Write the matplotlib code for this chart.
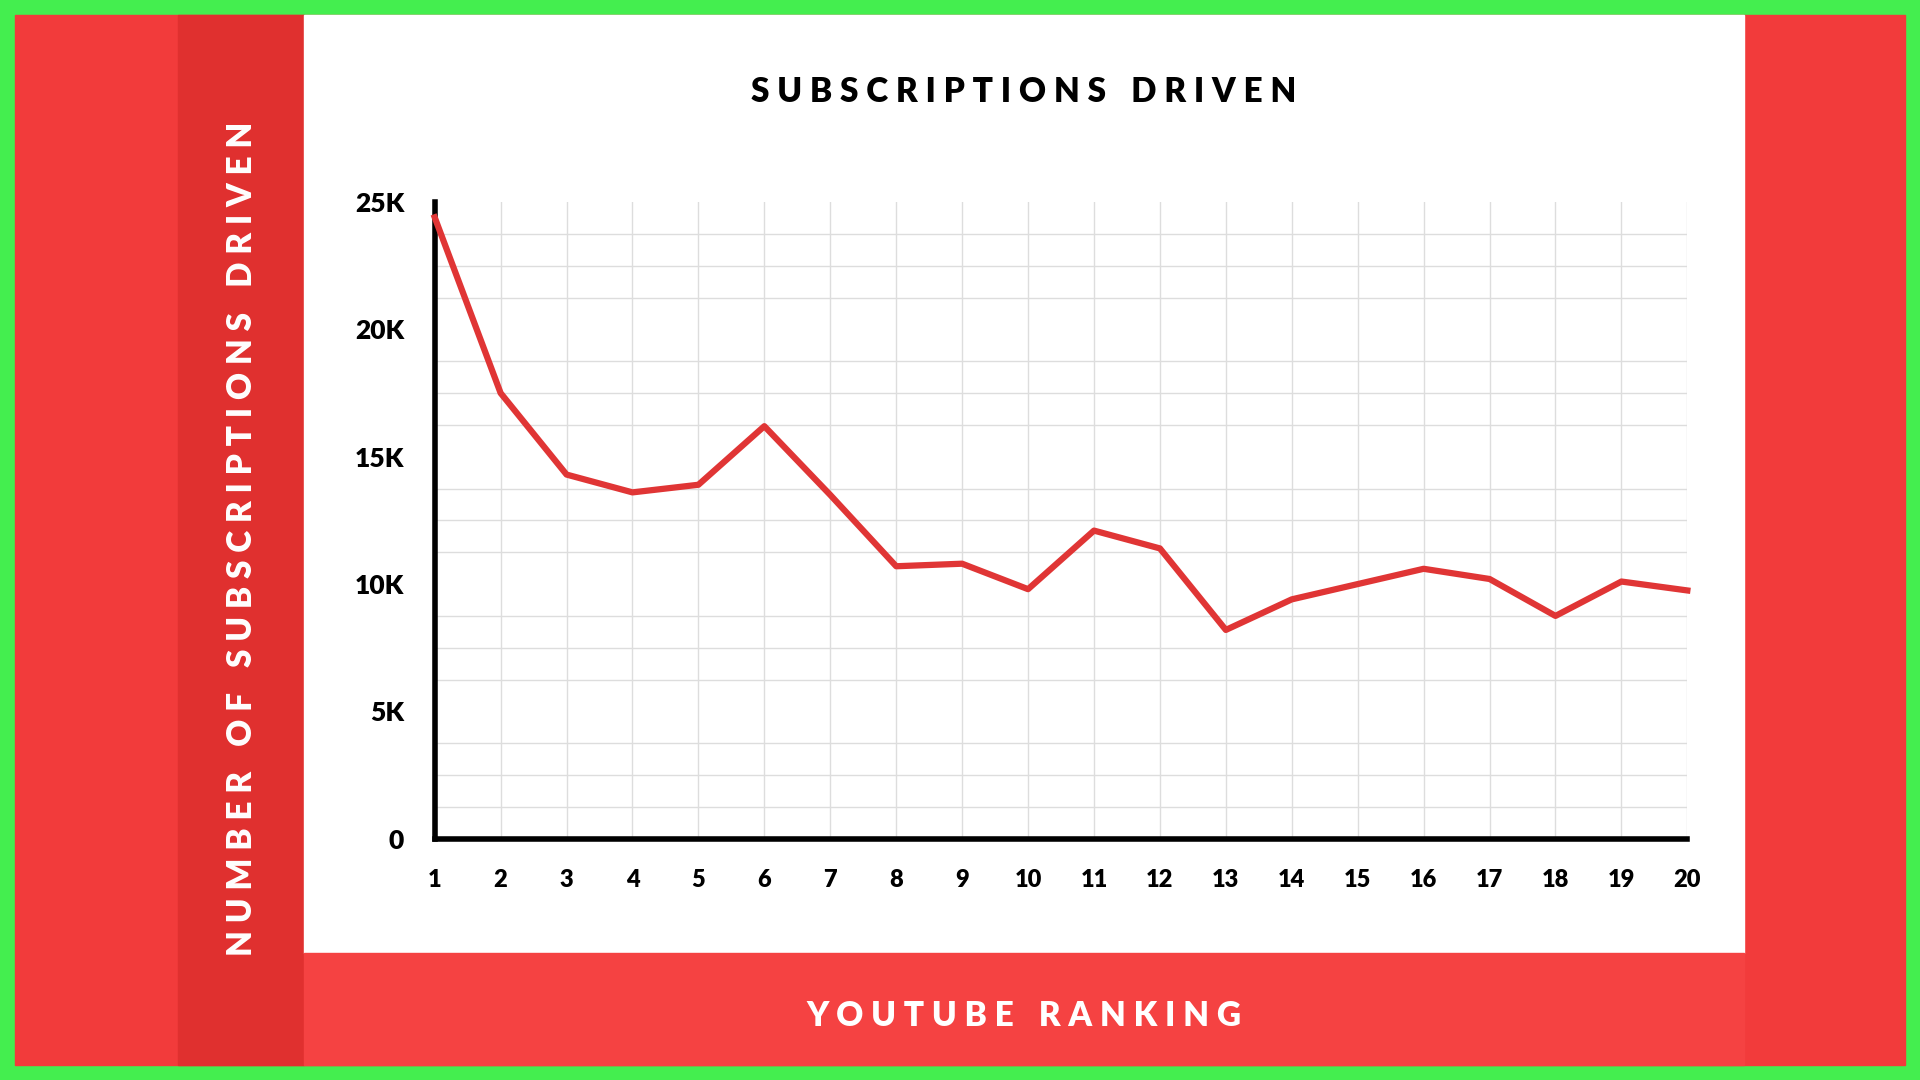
import matplotlib
matplotlib.use("Agg")
import matplotlib.pyplot as plt
from matplotlib.patches import Rectangle

# ── data ─────────────────────────────────────────────────────────────────────
ranking = list(range(1, 21))
subs_k = [24.4, 17.5, 14.3, 13.6, 13.9, 16.2, 13.5, 10.7, 10.8, 9.8,
          12.1, 11.4, 8.2, 9.4, 10.0, 10.6, 10.2, 8.75, 10.1, 9.75]
ytick_vals = [0, 5, 10, 15, 20, 25]
ytick_labels = ["0", "5K", "10K", "15K", "20K", "25K"]

GREEN = "#44ee4f"
RED = "#f23b3b"
DARK_RED = "#e0302f"
BAND_RED = "#f54242"
LINE_RED = "#e03535"

plt.rcParams["font.family"] = ["Lato", "DejaVu Sans"]

fig = plt.figure(figsize=(19.2, 10.8), dpi=100)
fig.patch.set_facecolor(GREEN)

W, H = 1568, 882
def rect(x0, y0, x1, y1, color):
    fig.patches.append(Rectangle((x0 / W, 1 - y1 / H), (x1 - x0) / W, (y1 - y0) / H,
                                 transform=fig.transFigure, color=color, zorder=0))

rect(12, 12, 1556, 870, RED)
rect(145, 12, 248, 870, DARK_RED)
rect(248, 12, 1424, 778, "white")
rect(248, 778, 1424, 870, BAND_RED)

ax = fig.add_axes([355 / W, 1 - 685 / H, (1378 - 355) / W, (685 - 165) / H])
ax.set_zorder(5)
ax.set_facecolor("white")
ax.plot(ranking, subs_k, color=LINE_RED, lw=4.5, zorder=3, clip_on=False)

ax.set_xlim(1, 20)
ax.set_ylim(0, 25)
ax.set_xticks(ranking)
ax.set_yticks(ytick_vals)
ax.set_yticklabels(ytick_labels)
ax.set_yticks([i * 1.25 for i in range(21)], minor=True)
ax.grid(True, which="major", axis="x", color="#dddddd", lw=1)
ax.grid(True, which="minor", axis="y", color="#dddddd", lw=1)
ax.tick_params(which="both", length=0)
ax.tick_params(axis="x", pad=22, labelsize=17)
ax.tick_params(axis="y", pad=22, labelsize=19)
for lbl in ax.get_xticklabels() + ax.get_yticklabels():
    lbl.set_fontweight("heavy")
for s in ["top", "right"]:
    ax.spines[s].set_visible(False)
for s in ["left", "bottom"]:
    ax.spines[s].set_linewidth(4)
    ax.spines[s].set_color("black")


def spaced(s):
    return " ".join("\u2003" if c == " " else c for c in s).replace(" \u2003 ", "\u2003")


fig.text(836 / W, 1 - 75 / H, spaced("SUBSCRIPTIONS DRIVEN"),
         ha="center", va="center", fontsize=24, fontweight="heavy", color="black")
fig.text(836 / W, 1 - 830 / H, spaced("YOUTUBE RANKING"),
         ha="center", va="center", fontsize=24, fontweight="heavy", color="white")
fig.text(198 / W, 1 - 440 / H, spaced("NUMBER OF SUBSCRIPTIONS DRIVEN"),
         ha="center", va="center", rotation=90, fontsize=24, fontweight="heavy", color="white")

fig.savefig("out.png", dpi=100, facecolor=fig.get_facecolor())
